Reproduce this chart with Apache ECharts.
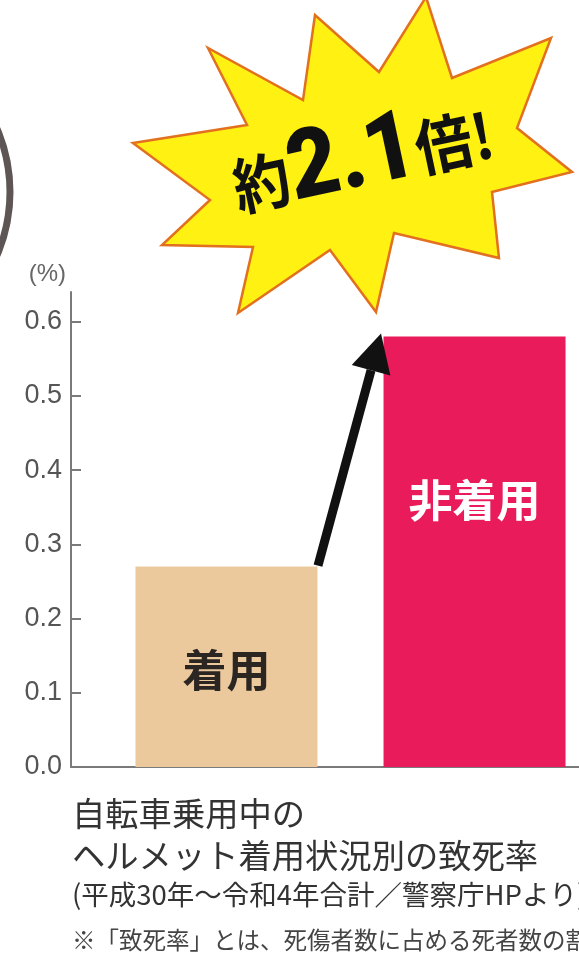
<!DOCTYPE html>
<html>
<head>
<meta charset="utf-8">
<script src="https://cdn.jsdelivr.net/npm/echarts@6/dist/echarts.min.js"></script>
<style>
html,body{margin:0;padding:0;background:#fff;}
#chart{width:579px;height:958px;}
</style>
</head>
<body>
<div id="chart"></div>
<script>
// ---- data ----
var categories = ['着用', '非着用'];
var values = [0.27, 0.58];
var yTicks = [0, 0.1, 0.2, 0.3, 0.4, 0.5, 0.6];
var yUnit = '(%)';
var titleLines = ['自転車乗用中の', 'ヘルメット着用状況別の致死率'];
var sourceText = '(平成30年～令和4年合計／警察庁HPより)';
var noteText = '※「致死率」とは、死傷者数に占める死者数の割合';
var badgeParts = ['約', '2.1', '倍!'];

// ---- styles ----
var barColors = ['#EBC99D', '#E91B5B'];
var labelColors = ['#2b2622', '#ffffff'];
var labelOffsets = [104, 164];
var CJK = '"Noto Sans CJK JP", "Noto Sans CJK SC", sans-serif';

var chart = echarts.init(document.getElementById('chart'), null, {renderer: 'canvas'});

var series = categories.map(function (name, i) {
  return {
    name: name,
    type: 'bar',
    data: [values[i]],
    barWidth: 182,
    barGap: '36.3%',
    itemStyle: {color: barColors[i]},
    label: {
      show: true,
      position: ['50%', labelOffsets[i]],
      align: 'center',
      verticalAlign: 'middle',
      formatter: name,
      color: labelColors[i],
      fontSize: 44,
      fontWeight: 'bold',
      fontFamily: CJK
    },
    silent: true
  };
});

var starPts = [
  [133,143],[247,125],[208,48],[303,100],[315,15],[379,72],[426,-3],[452,78],
  [551,38],[517,128],[572,172],[492,192],[499,258],[394,233],[376,312],[330,250],
  [238,313],[253,247],[162,245],[210,200]
];

var option = {
  animation: false,
  backgroundColor: '#ffffff',
  title: {
    text: titleLines.join('\n'),
    left: 72,
    top: 792,
    padding: 0,
    textStyle: {
      fontSize: 33.3,
      lineHeight: 42,
      fontWeight: 'normal',
      color: '#333333',
      fontFamily: CJK
    }
  },
  grid: {left: 71, top: 292, bottom: 191, width: 559, containLabel: false, outerBoundsMode: 'none'},
  xAxis: {
    type: 'category',
    data: [''],
    axisLine: {lineStyle: {color: '#7a7a7a', width: 2}},
    axisTick: {show: false},
    axisLabel: {show: false}
  },
  yAxis: {
    type: 'value',
    min: 0,
    max: 0.64,
    name: yUnit,
    nameLocation: 'end',
    nameGap: 6,
    nameTextStyle: {
      align: 'right', verticalAlign: 'bottom', padding: [0, 5, 0, 0],
      fontSize: 24, color: '#666666', fontFamily: 'Liberation Sans, Arial, sans-serif'
    },
    axisLine: {show: true, lineStyle: {color: '#7a7a7a', width: 2}},
    axisTick: {show: true, inside: true, length: 10, customValues: yTicks, lineStyle: {color: '#7a7a7a', width: 2}},
    axisLabel: {
      customValues: yTicks,
      formatter: function (v) { return v.toFixed(1); },
      fontSize: 27, color: '#555555', margin: 9,
      fontFamily: 'Liberation Sans, Arial, sans-serif'
    },
    splitLine: {show: false}
  },
  series: series
};
chart.setOption(option);

// ---- annotations (computed from axis scale) ----
var yStart = chart.convertToPixel({yAxisIndex: 0}, values[0]);
var yEnd = chart.convertToPixel({yAxisIndex: 0}, values[1]);
var S = [318, yStart - 1];
var T = [381, yEnd - 3];
var dx = T[0] - S[0], dy = T[1] - S[1];
var len = Math.sqrt(dx * dx + dy * dy);
var ux = dx / len, uy = dy / len;
var nx = -uy, ny = ux;
var headL = 38, headW = 20;
var B = [T[0] - headL * ux, T[1] - headL * uy];

chart.setOption({
  graphic: [
    // cropped ring at left edge
    {type: 'circle', shape: {cx: -150, cy: 192, r: 160}, style: {fill: 'none', stroke: '#5e5555', lineWidth: 7}, silent: true},
    // starburst
    {type: 'polygon', shape: {points: starPts}, style: {fill: '#FFF212', stroke: '#E2701E', lineWidth: 2.5}, silent: true, z: 10},
    {
      type: 'text', x: 363, y: 161, rotation: 12 * Math.PI / 180, scaleX: 0.92, z: 20,
      style: {
        text: '{a|' + badgeParts[0] + '}{b|' + badgeParts[1] + '}{a|' + badgeParts[2] + '}',
        align: 'center', verticalAlign: 'middle',
        rich: {
          a: {fontSize: 62, fontWeight: 'bold', fontFamily: CJK, fill: '#111111', color: '#111111'},
          b: {fontSize: 96, fontWeight: 900, fontFamily: 'Roboto, "Liberation Sans", sans-serif', fill: '#111111', color: '#111111'}
        }
      },
      silent: true
    },
    // arrow
    {type: 'line', shape: {x1: S[0], y1: S[1], x2: B[0], y2: B[1]}, style: {stroke: '#111111', lineWidth: 9}, silent: true, z: 12},
    {type: 'polygon', shape: {points: [T, [B[0] + headW * nx, B[1] + headW * ny], [B[0] - headW * nx, B[1] - headW * ny]]}, style: {fill: '#111111'}, silent: true, z: 12},
    // source & note
    {type: 'text', x: 72, y: 895, style: {text: sourceText, fontSize: 27.5, fill: '#333333', fontFamily: CJK, verticalAlign: 'middle'}, silent: true},
    {type: 'text', x: 72, y: 940, style: {text: noteText, fontSize: 23.5, fill: '#444444', fontFamily: CJK, verticalAlign: 'middle'}, silent: true}
  ]
});
</script>
</body>
</html>
